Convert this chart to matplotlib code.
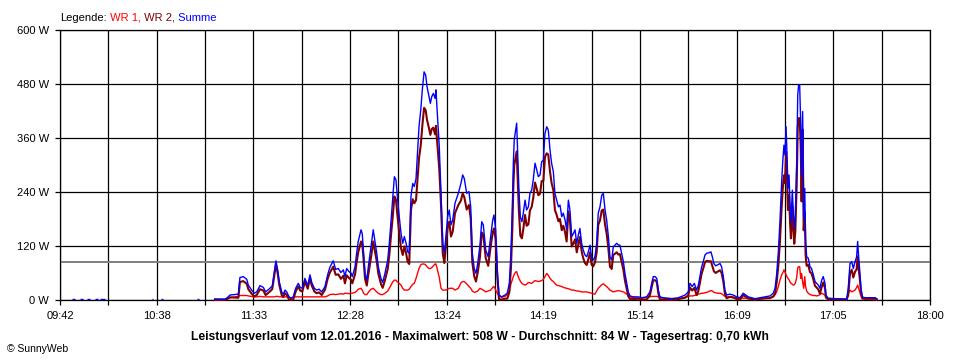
import matplotlib
matplotlib.use("Agg")
import matplotlib.pyplot as plt

plt.rcParams['font.family'] = ['Liberation Sans', 'DejaVu Sans']

# time axis in minutes of the day (09:42 = 582, 18:00 = 1080)
x_start = 582
x_end = 1080
tick_labels = ["09:42", "10:38", "11:33", "12:28", "13:24", "14:19",
               "15:14", "16:09", "17:05", "18:00"]
y_ticks = [0, 120, 240, 360, 480, 600]
average_w = 84

# tiny readings in the early morning (start / end of each dash, W)
early_start = [588.7, 593.4, 597.6, 602.0, 604.9, 634.5, 639.8, 660.2]
early_end = [590.6, 595.3, 599.2, 603.9, 607.8, 635.4, 640.8, 661.6]
early_w = 1.5

minute_of_day = [
    670.7, 676.4, 678.0, 679.3, 684.1, 685.0, 686.9, 688.9, 689.8, 691.7,
    693.2, 694.6, 696.5, 698.4, 699.7, 701.6, 703.5, 704.7, 705.6, 706.6,
    707.5, 708.9, 709.8, 710.8, 711.8, 713.1, 714.2, 715.5, 716.9, 718.4,
    719.5, 720.7, 722.2, 723.8, 725.1, 726.1, 727.6, 728.9, 730.3, 731.8,
    733.7, 735.2, 736.5, 738.4, 739.8, 741.3, 742.8, 744.2, 745.1, 746.1,
    747.4, 748.6, 749.3, 750.9, 751.8, 752.7, 754.3, 755.0, 755.8, 756.6,
    757.6, 758.5, 760.0, 761.3, 762.3, 763.3, 764.2, 765.7, 766.7, 768.0,
    769.6, 770.5, 771.5, 772.4, 773.4, 774.3, 775.1, 776.2, 777.2, 778.2,
    779.1, 780.1, 781.0, 781.9, 782.9, 783.9, 784.8, 785.8, 786.7, 787.5,
    788.5, 789.4, 790.4, 791.3, 792.1, 793.2, 794.0, 794.8, 795.7, 796.7,
    797.2, 798.2, 799.1, 800.1, 801.1, 802.0, 802.9, 803.9, 804.8, 805.8,
    806.8, 808.1, 810.0, 811.5, 812.5, 813.4, 814.8, 816.1, 817.1, 818.0,
    819.1, 820.1, 821.1, 822.4, 823.4, 824.3, 825.7, 827.1, 828.5, 829.7,
    830.4, 831.4, 832.3, 833.3, 834.8, 836.7, 838.0, 839.2, 840.1, 840.9,
    841.5, 842.0, 842.8, 843.4, 844.0, 844.7, 845.5, 846.4, 847.2, 848.2,
    849.1, 850.1, 851.0, 852.0, 852.9, 853.9, 854.9, 855.8, 856.8, 857.7,
    858.7, 859.6, 860.6, 861.5, 862.5, 863.4, 864.4, 865.3, 866.3, 867.3,
    868.2, 869.2, 870.1, 871.1, 872.0, 873.0, 873.9, 874.9, 875.9, 876.8,
    877.8, 878.7, 879.6, 880.6, 881.5, 882.5, 883.5, 884.4, 885.4, 886.3,
    887.3, 888.2, 889.2, 890.1, 891.1, 892.1, 893.0, 894.0, 894.9, 895.9,
    896.8, 897.8, 898.7, 899.7, 900.7, 901.6, 902.5, 903.5, 904.5, 905.4,
    906.4, 907.3, 908.3, 910.2, 913.0, 915.0, 917.8, 919.7, 920.7, 921.6,
    922.6, 923.6, 924.5, 925.4, 927.3, 932.1, 935.9, 939.8, 941.6, 942.6,
    943.9, 945.1, 946.4, 947.4, 948.3, 949.3, 950.2, 951.2, 952.2, 953.5,
    954.6, 955.4, 956.3, 957.3, 958.4, 959.8, 960.7, 961.7, 962.6, 963.6,
    965.5, 967.4, 969.3, 971.2, 973.1, 974.5, 976.0, 977.9, 979.8, 985.5,
    988.4, 990.3, 991.3, 992.2, 993.2, 994.1, 995.1, 995.7, 996.4, 997.0,
    997.6, 998.1, 998.7, 999.3, 999.9, 1000.4, 1001.2, 1001.8, 1002.3, 1002.9,
    1003.7, 1004.3, 1004.8, 1005.4, 1006.0, 1006.5, 1007.1, 1007.7, 1008.3, 1008.8,
    1009.4, 1010.3, 1011.3, 1012.2, 1013.2, 1014.2, 1015.1, 1016.1, 1017.0, 1018.0,
    1018.9, 1019.9, 1020.4, 1021.7, 1025.6, 1032.3, 1033.2, 1034.2, 1035.2, 1036.1,
    1037.1, 1038.0, 1038.6, 1039.2, 1039.7, 1040.5, 1041.3, 1042.8, 1048.5, 1049.5,
]

summe_w = [
    1.5, 1.5, 6, 11, 13, 50, 52, 46, 33, 22,
    15, 18, 32, 28, 18, 24, 31, 63, 87, 67,
    41, 18, 13, 22, 18, 7, 4, 7, 26, 37,
    28, 26, 48, 32, 56, 39, 26, 22, 24, 18,
    30, 56, 73, 87, 68, 70, 61, 67, 52, 70,
    63, 60, 52, 74, 104, 130, 156, 148, 104, 59,
    44, 74, 118, 156, 130, 104, 74, 48, 39, 59,
    89, 126, 178, 222, 274, 267, 230, 185, 148, 126,
    141, 126, 107, 104, 230, 259, 252, 270, 333, 385,
    422, 467, 507, 500, 474, 452, 437, 452, 459, 448,
    467, 400, 341, 237, 126, 104, 141, 185, 200, 167,
    178, 215, 237, 259, 278, 270, 237, 241, 207, 104,
    70, 59, 81, 122, 174, 167, 111, 96, 141, 178,
    189, 156, 67, 11, 7, 11, 15, 37, 104, 200,
    304, 356, 378, 393, 326, 244, 185, 174, 193, 222,
    200, 207, 237, 244, 267, 304, 289, 274, 278, 307,
    311, 370, 385, 378, 333, 304, 285, 237, 222, 207,
    211, 185, 193, 178, 156, 222, 200, 141, 148, 156,
    126, 144, 159, 126, 111, 100, 96, 107, 122, 93,
    89, 96, 126, 193, 207, 233, 237, 200, 178, 141,
    96, 89, 118, 122, 126, 122, 122, 104, 85, 59,
    37, 18, 9, 7, 7, 5, 7, 18, 37, 52,
    52, 48, 22, 7, 5, 3, 5, 11, 18, 37,
    30, 37, 22, 33, 52, 74, 85, 100, 104, 105,
    107, 96, 81, 76, 78, 81, 74, 52, 22, 11,
    13, 11, 7, 5, 15, 11, 7, 5, 3, 7,
    9, 15, 26, 56, 107, 174, 263, 307, 344, 322,
    385, 330, 248, 278, 211, 174, 244, 189, 159, 189,
    307, 456, 478, 478, 389, 278, 419, 181, 248, 130,
    96, 93, 74, 70, 56, 41, 37, 33, 26, 44,
    52, 37, 11, 4, 3, 2, 26, 81, 85, 70,
    85, 96, 130, 93, 70, 26, 7, 5, 5, 2,
]

wr1_w = [
    0, 0.5, 3, 5, 8, 10, 10, 10, 9, 8,
    7, 7, 8, 7, 7, 7, 7, 7, 8, 8,
    7, 7, 6, 7, 7, 6, 4, 6, 7, 7,
    7, 7, 7, 7, 7, 7, 7, 7, 7, 7,
    7, 9, 12, 13, 12, 13, 14, 13, 15, 15,
    14, 15, 15, 17, 20, 24, 26, 22, 15, 12,
    12, 17, 24, 26, 22, 18, 15, 12, 12, 15,
    20, 26, 33, 40, 44, 44, 40, 37, 33, 26,
    22, 22, 22, 24, 30, 35, 37, 48, 60, 70,
    78, 80, 80, 78, 74, 70, 70, 72, 76, 80,
    80, 65, 50, 26, 22, 22, 22, 24, 26, 26,
    26, 22, 26, 38, 41, 41, 36, 30, 26, 20,
    17, 18, 20, 26, 24, 22, 18, 20, 22, 28,
    30, 22, 15, 9, 6, 8, 12, 20, 35, 45,
    52, 57, 62, 63, 55, 48, 42, 37, 35, 33,
    35, 39, 38, 37, 40, 43, 42, 41, 42, 43,
    46, 52, 59, 55, 48, 44, 41, 37, 33, 32,
    31, 30, 28, 27, 26, 25, 24, 22, 22, 21,
    20, 20, 19, 18, 18, 18, 18, 17, 16, 15,
    14, 13, 20, 26, 30, 34, 36, 33, 30, 26,
    22, 20, 18, 19, 20, 21, 20, 19, 18, 16,
    13, 10, 7, 5, 4, 4, 6, 7, 8, 8,
    8, 8, 7, 6, 4, 3, 3, 6, 8, 9,
    9, 10, 11, 13, 14, 15, 15, 16, 17, 19,
    21, 20, 17, 16, 15, 15, 14, 11, 8, 7,
    6, 5, 5, 4, 4, 4, 4, 3, 2, 3,
    5, 7, 12, 18, 30, 44, 56, 60, 67, 62,
    56, 52, 48, 45, 40, 37, 35, 33, 34, 37,
    50, 72, 74, 74, 48, 59, 40, 26, 52, 30,
    20, 15, 12, 11, 10, 10, 9, 10, 12, 15,
    13, 11, 5, 3, 2, 1, 15, 22, 18, 20,
    22, 28, 33, 25, 18, 8, 4, 2, 1, 0,
]

# WR 2 is the rest of the sum
wr2_w = [s - r for s, r in zip(summe_w, wr1_w)]

title = ("Leistungsverlauf vom 12.01.2016 - Maximalwert: 508 W - "
         "Durchschnitt: 84 W - Tagesertrag: 0,70 kWh")

fig = plt.figure(figsize=(9.6, 3.6), dpi=100)
ax = fig.add_axes([60/960, 60/360, 870/960, 270/360])

ax.plot(minute_of_day, wr1_w, color="#ff0000", lw=1.0, zorder=3, clip_on=False)
ax.plot(minute_of_day, wr2_w, color="#800000", lw=1.5, zorder=4, clip_on=False)
ax.plot(minute_of_day, summe_w, color="#0000ff", lw=1.0, zorder=5, clip_on=False)
ax.hlines([early_w]*len(early_start), early_start, early_end,
          color="#0000ff", lw=1.0, zorder=5, clip_on=False)
ax.axhline(average_w, color="#808080", lw=1.4, zorder=2)

ax.set_xlim(x_start, x_end)
ax.set_ylim(0, 600)

# grid every half label step, labels on every second line
step = (x_end - x_start) / 18
xt = [x_start + i*step for i in range(19)]
xl = [tick_labels[i//2] if i % 2 == 0 else "" for i in range(19)]
ax.set_xticks(xt)
ax.set_xticklabels(xl)
ax.set_yticks(y_ticks)
ax.set_yticklabels([str(v) + " W" for v in y_ticks])
ax.tick_params(direction="out", length=3.8, width=0.9, color="black",
               labelsize=8, pad=4)

ax.grid(True, color="black", lw=0.9, zorder=1)
ax.set_axisbelow(True)
for s in ax.spines.values():
    s.set_color("black")
    s.set_linewidth(0.9)

# legend line on top, coloured pieces placed one after another
prev = fig.text(60/960, 1 - 21/360, "Legende:", fontsize=8, va="baseline")
for txt, col in [(" WR 1,", "#ff0000"), (" WR 2,", "#800000"), (" Summe", "#0000ff")]:
    prev = ax.annotate(txt, xy=(1, 0), xycoords=prev, va="bottom", ha="left",
                       fontsize=8, color=col, annotation_clip=False)

fig.text(0.5, 23/360, title, ha="center", va="center", fontsize=8.7,
         fontweight="bold")
fig.text(7/960, 11/360, "\u00a9 SunnyWeb", ha="left", va="center", fontsize=7.5)

fig.savefig("out.png", dpi=100)
